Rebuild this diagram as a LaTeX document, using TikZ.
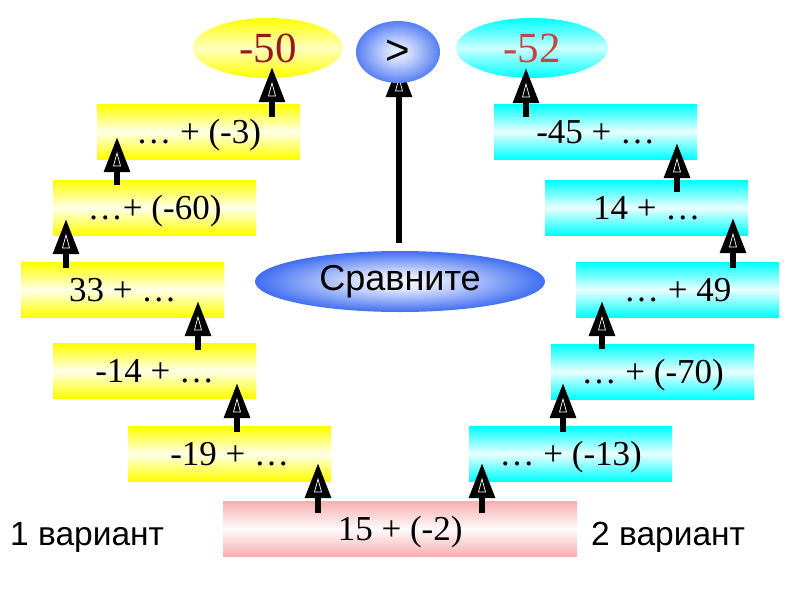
\documentclass[tikz,border=0pt]{standalone}
\usepackage{fontspec}
\setmainfont{Liberation Serif}
\newfontfamily\arialf{Liberation Sans}
\usetikzlibrary{arrows.meta,calc,decorations.markings,shapes.geometric}
\definecolor{ylw}{RGB}{255,255,0}
\definecolor{cyn}{RGB}{0,255,255}
\definecolor{pnk}{RGB}{247,175,175}
\definecolor{dred}{RGB}{150,25,25}
\definecolor{lred}{RGB}{192,72,68}
\definecolor{blu}{RGB}{64,110,242}
\pgfdeclareradialshading{cmpshade}{\pgfpoint{0bp}{0bp}}{color(0bp)=(white!94!blu); color(6bp)=(white!84!blu); color(14bp)=(white!50!blu); color(25bp)=(blu); color(50bp)=(blu)}
\pgfdeclareradialshading{gtshade}{\pgfpoint{0bp}{0bp}}{color(0bp)=(white!90!blu); color(8bp)=(white!72!blu); color(17bp)=(white!40!blu); color(25bp)=(blu!88!white); color(50bp)=(blu!88!white)}
\tikzset{
  box/.style={rectangle, anchor=north west, minimum width=203pt, minimum height=55pt, inner sep=0pt, text depth=0pt,
    font=\fontsize{35}{35}\selectfont},
  ybox/.style={box, top color=ylw, bottom color=ylw, middle color=white!92!ylw},
  cbox/.style={box, top color=cyn, bottom color=cyn, middle color=white!92!cyn},
  pbox/.style={box, minimum width=354pt, top color=pnk, bottom color=pnk, middle color=white!95!pnk},
  oval/.style={ellipse, inner sep=0pt},
  arr/.style={line width=6pt, -{Triangle[length=35pt,width=25pt]},
    postaction={decorate},
    decoration={markings, mark=at position -0.5pt with {\draw[white,line width=0.7pt] (-15.5pt,0pt) -- (-28.5pt,3.5pt) -- (-28.5pt,-3.5pt) -- cycle;}}},
  lbl/.style={anchor=base west, inner sep=0pt, font=\arialf\fontsize{33.5}{33.5}\selectfont}
}
\begin{document}
\begin{tikzpicture}[x=1pt,y=-1pt]
\useasboundingbox (0,0) rectangle (800,600);
% boxes
\node[ybox] (y1) at (128,426) {-19 + \dots};
\node[ybox] (y2) at (53,343) {-14 + \dots};
\node[ybox] (y3) at (21,262) {33 + \dots};
\node[ybox] (y4) at (53,180) {\dots+ (-60)};
\node[ybox] (y5) at (97,104) {\dots{} + (-3)};
\node[cbox] (c1) at (469,426) {\dots{} + (-13)};
\node[cbox] (c2) at (551,344) {\dots{} + (-70)};
\node[cbox] (c3) at (576,262) {\dots{} + 49};
\node[cbox] (c4) at (545,180) {14 + \dots};
\node[cbox] (c5) at (494,104) {-45 + \dots};
\node[pbox] (p) at (223,501) {15 + (-2)};
% ovals
\node[oval, minimum width=150pt, minimum height=60pt, top color=ylw, bottom color=ylw, middle color=white!75!ylw,
  text=dred, font=\fontsize{43}{43}\selectfont] (m50) at (268,48) {-50};
\node[oval, minimum width=152pt, minimum height=60pt, top color=cyn, bottom color=cyn, middle color=white!80!cyn,
  text=lred, font=\fontsize{43}{43}\selectfont] (m52) at (532,48) {-52};
\node[oval, minimum width=290pt, minimum height=61pt, shading=cmpshade,
  font=\arialf\fontsize{36}{36}\selectfont] (cmp) at (400,281.5) {Сравните};
% central arrow (under the > oval)
\coordinate (gtc) at (398,52);
\draw[arr] ($(cmp.north)+(-1,-8)$) -- ($(gtc)+(1,10)$);
\node[oval, minimum width=84pt, minimum height=62pt, shading=gtshade,
  font=\arialf\fontsize{42}{42}\selectfont] (gt) at (gtc) {>};
% labels
\node[lbl] (v1) at (10,545) {1 вариант};
\node[lbl] (v2) at (591,545) {2 вариант};
% arrows
\draw[arr] ($(p.north west)+(95,12)$) -- ($(y1.north west)+(190,37)$);
\draw[arr] ($(p.north west)+(259,12)$) -- ($(c1.north west)+(13,37)$);
\draw[arr] ($(y1.north west)+(109,6)$) -- ($(y2.north west)+(184,40)$);
\draw[arr] ($(y2.north west)+(145,7)$) -- ($(y3.north west)+(177,39)$);
\draw[arr] ($(y3.north west)+(45,6)$) -- ($(y4.north west)+(13,39)$);
\draw[arr] ($(y4.north west)+(64,5)$) -- ($(y5.north west)+(20,33)$);
\draw[arr] ($(y5.north west)+(175,13)$) -- ($(m50.center)+(4,19)$);
\draw[arr] ($(c1.north west)+(94,6)$) -- ($(c2.north west)+(12,39)$);
\draw[arr] ($(c2.north west)+(51,5)$) -- ($(c3.north west)+(26,39)$);
\draw[arr] ($(c3.north west)+(157,6)$) -- ($(c4.north west)+(188,38)$);
\draw[arr] ($(c4.north west)+(132,12)$) -- ($(c5.north west)+(183,39)$);
\draw[arr] ($(c5.north west)+(32,13)$) -- ($(m52.center)+(-6,20)$);
\end{tikzpicture}
\end{document}
